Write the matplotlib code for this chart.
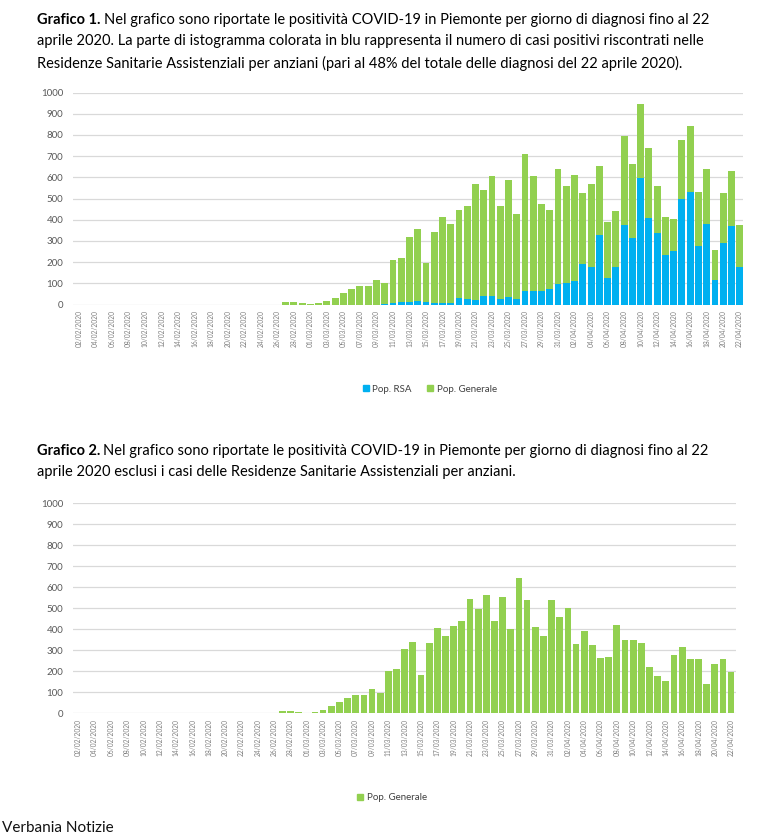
import numpy as np
import matplotlib
matplotlib.use("Agg")
import matplotlib.pyplot as plt
from matplotlib.patches import Patch
import datetime as dt

plt.rcParams["font.family"] = ["Lato", "DejaVu Sans"]

# daily dates 02/02/2020 -> 22/04/2020
start = dt.date(2020, 2, 2)
dates = [start + dt.timedelta(days=i) for i in range(81)]
date_labels = [d.strftime("%d/%m/%Y") for d in dates]

# cases in RSA (nursing homes), read from Grafico 1 (blue)
rsa = [0] * 37 + [
    3, 6, 10, 13, 15, 12, 8, 6, 8, 31,            # 10/03 - 19/03
    27, 22, 41, 41, 25, 35, 25, 66, 66, 63,       # 20/03 - 29/03
    74, 97, 101, 112, 193, 176, 328, 127, 176, 374,  # 30/03 - 08/04
    314, 599, 407, 338, 233, 253, 497, 530, 275, 382,  # 09/04 - 18/04
    115, 289, 369, 178,                           # 19/04 - 22/04
]

# general population, read from Grafico 2
generale = [0] * 25 + [
    13, 13, 5, 2, 8, 17, 33, 56, 75, 86,           # 27/02 - 07/03
    89, 114, 98, 203, 210, 305, 340, 184, 336, 405,  # 08/03 - 17/03
    370, 414, 438, 546, 498, 565, 441, 553, 403, 646,  # 18/03 - 27/03
    541, 413, 370, 541, 460, 500, 332, 394, 324, 262,  # 28/03 - 06/04
    266, 421, 348, 347, 333, 222, 179, 152, 278, 314,  # 07/04 - 16/04
    258, 257, 141, 237, 259, 198,                  # 17/04 - 22/04
]

BLUE = "#00B0F0"
GREEN = "#92D050"
GRID = "#D9D9D9"
TXT = "#595959"

W, H = 764, 836
fig = plt.figure(figsize=(W / 100, H / 100), dpi=100)
fig.patch.set_facecolor("white")


def fx(px):
    return px / W


def fy(py):
    return 1 - py / H


def style_axis(ax, xlim):
    x = np.arange(len(dates))
    ax.set_xlim(*xlim)
    ax.set_ylim(0, 1000)
    ax.set_yticks(np.arange(0, 1001, 100))
    ax.set_xticks(x[::2])
    ax.set_xticklabels(date_labels[::2], rotation=90, fontsize=4.8, color="#7F7F7F")
    ax.tick_params(axis="y", length=0, pad=7, labelsize=7, labelcolor=TXT)
    ax.tick_params(axis="x", length=0, pad=4)
    ax.grid(axis="y", color=GRID, linewidth=0.9)
    ax.set_axisbelow(True)
    for s in ax.spines.values():
        s.set_visible(False)


renderer = fig.canvas.get_renderer()


def title(lines, y0, bold, fs=10.5, step=21.5):
    x0 = fx(37)
    t = fig.text(x0, fy(y0), bold, fontsize=fs, fontweight="bold", va="center", color="black")
    bb = t.get_window_extent(renderer=renderer)
    fig.text(x0 + (bb.width + 3) / W, fy(y0), lines[0], fontsize=fs, va="center", color="black")
    for i, ln in enumerate(lines[1:], start=1):
        fig.text(x0, fy(y0 + i * step), ln, fontsize=fs, va="center", color="black")


# ---- Grafico 1 ----
title(
    [
        "Nel grafico sono riportate le positività COVID-19 in Piemonte per giorno di diagnosi fino al 22",
        "aprile 2020. La parte di istogramma colorata in blu rappresenta il numero di casi positivi riscontrati nelle",
        "Residenze Sanitarie Assistenziali per anziani (pari al 48% del totale delle diagnosi del 22 aprile 2020).",
    ],
    20, "Grafico 1.",
)

ax1 = fig.add_axes([fx(73), fy(304.5), fx(743 - 73), (304.5 - 92.5) / H])
x = np.arange(len(dates))
ax1.bar(x, rsa, width=0.83, color=BLUE, label="Pop. RSA")
ax1.bar(x, generale, bottom=rsa, width=0.83, color=GREEN, label="Pop. Generale")
style_axis(ax1, (-0.75, 80.4))
fig.legend(
    handles=[Patch(color=BLUE, label="Pop. RSA"), Patch(color=GREEN, label="Pop. Generale")],
    loc="center", bbox_to_anchor=(fx(430), fy(389)), ncol=2, frameon=False,
    fontsize=7, handlelength=0.6, handleheight=0.6, handletextpad=0.4, columnspacing=1.6,
    labelcolor="#404040",
)

# ---- Grafico 2 ----
title(
    [
        "Nel grafico sono riportate le positività COVID-19 in Piemonte per giorno di diagnosi fino al 22",
        "aprile 2020 esclusi i casi delle Residenze Sanitarie Assistenziali per anziani.",
    ],
    451, "Grafico 2.",
)

ax2 = fig.add_axes([fx(73), fy(713.3), fx(736 - 73), 210 / H])
ax2.bar(x, generale, width=0.83, color=GREEN, label="Pop. Generale")
style_axis(ax2, (-0.65, 80.6))
fig.legend(
    handles=[Patch(color=GREEN, label="Pop. Generale")],
    loc="center", bbox_to_anchor=(fx(392), fy(798)), ncol=1, frameon=False,
    fontsize=7, handlelength=0.6, handleheight=0.6, handletextpad=0.4,
    labelcolor="#404040",
)

fig.text(fx(2), fy(828), "Verbania Notizie", fontsize=11, fontweight="normal",
         va="center", color="#111111")

fig.savefig("out.png", dpi=100, facecolor="white")
